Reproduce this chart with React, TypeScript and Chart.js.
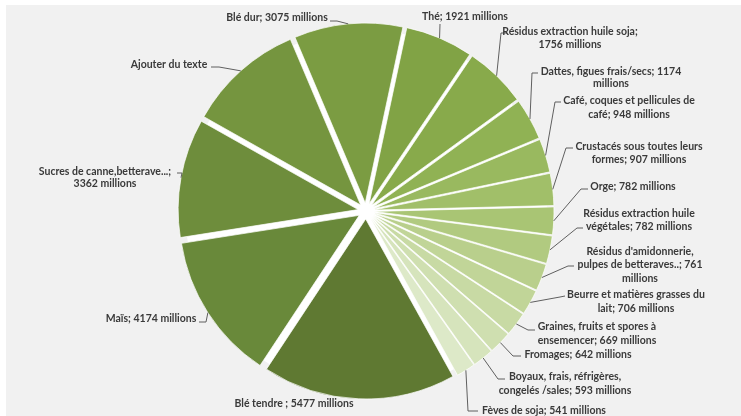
import React, { useEffect, useRef } from "react";
import { Chart, registerables } from "chart.js";

Chart.register(...registerables);

const categories = [
  "Blé tendre",
  "Maïs",
  "Sucres de canne,betterave...",
  "Ajouter du texte",
  "Blé dur",
  "Thé",
  "Résidus extraction huile soja",
  "Dattes, figues frais/secs",
  "Café, coques et pellicules de café",
  "Crustacés sous toutes leurs formes",
  "Orge",
  "Résidus extraction huile végétales",
  "Résidus d'amidonnerie, pulpes de betteraves..",
  "Beurre et matières grasses du lait",
  "Graines, fruits et spores à ensemencer",
  "Fromages",
  "Boyaux, frais, réfrigères, congelés /sales",
  "Fèves de soja",
];

const values = [5477, 4174, 3362, 3300, 3075, 1921, 1756, 1174, 948, 907, 782, 782, 761, 706, 669, 642, 593, 541];

const labelLines: string[][] = [
  ["Blé tendre ; 5477 millions"],
  ["Maïs; 4174 millions"],
  ["Sucres de canne,betterave...;", "3362 millions"],
  ["Ajouter du texte"],
  ["Blé dur; 3075 millions"],
  ["Thé; 1921 millions"],
  ["Résidus extraction huile soja;", "1756 millions"],
  ["Dattes, figues frais/secs; 1174", "millions"],
  ["Café, coques et pellicules de", "café; 948 millions"],
  ["Crustacés sous toutes leurs", "formes; 907 millions"],
  ["Orge; 782 millions"],
  ["Résidus extraction huile", "végétales; 782 millions"],
  ["Résidus d'amidonnerie,", "pulpes de betteraves..; 761", "millions"],
  ["Beurre et matières grasses du", "lait; 706 millions"],
  ["Graines, fruits et spores à", "ensemencer; 669 millions"],
  ["Fromages; 642 millions"],
  ["Boyaux, frais, réfrigères,", "congelés /sales; 593 millions"],
  ["Fèves de soja; 541 millions"],
];

const colors = [
  "#5f7932", "#69893a", "#6e8d3c", "#75953f", "#7b9c42", "#81a345",
  "#88aa4b", "#90b254", "#99b95f", "#a1bf69", "#a9c574", "#b1ca80",
  "#b9cf8c", "#c1d598", "#c8daa4", "#cfdfb0", "#d6e4bc", "#dde9c8",
];

// label text placement: centre x, line y's, leader anchor (a) and elbow (e)
type Lay = { cx: number; y: number[]; a?: [number, number]; e?: [number, number] };
const labelLayout: Lay[] = [
  { cx: 294, y: [404] },
  { cx: 151, y: [319], a: [199, 322], e: [206, 322] },
  { cx: 105, y: [172, 184], a: [177, 173], e: [182, 173] },
  { cx: 169, y: [65], a: [211, 67], e: [219, 67] },
  { cx: 277, y: [18], a: [330, 21], e: [337, 21] },
  { cx: 465, y: [17], a: [440, 24], e: [440, 24] },
  { cx: 570, y: [32, 45], a: [507, 33], e: [501, 33] },
  { cx: 611, y: [72, 84], a: [538, 73], e: [532, 73] },
  { cx: 629, y: [101, 115], a: [561, 102], e: [555, 102] },
  { cx: 639, y: [147, 160], a: [573, 148], e: [566, 148] },
  { cx: 633, y: [187], a: [588, 189], e: [581, 189] },
  { cx: 639, y: [214, 227], a: [583, 228], e: [577, 228] },
  { cx: 640, y: [252, 265, 279], a: [574, 266], e: [568, 266] },
  { cx: 636, y: [295, 309], a: [565, 296], e: [560, 297] },
  { cx: 597, y: [327, 341], a: [535, 330], e: [528, 330] },
  { cx: 578, y: [355], a: [521, 356], e: [513, 356] },
  { cx: 565, y: [377, 391], a: [505, 379], e: [498, 379] },
  { cx: 544, y: [411], a: [478, 411], e: [468, 411] },
];

const EXPLODE = 8;
const RADIUS = 180;

const explodePlugin = {
  id: "explode",
  beforeDatasetDraw(chart: any, args: any) {
    const meta = args.meta;
    const ctx = chart.ctx;
    const first = meta.data[0];
    if (!first) return false;
    const { x, y, outerRadius } = first.getProps(["x", "y", "outerRadius"], true);
    ctx.save();
    ctx.fillStyle = "#ffffff";
    ctx.beginPath();
    ctx.arc(x, y, outerRadius + 1, 0, Math.PI * 2);
    ctx.fill();
    ctx.restore();
    meta.data.forEach((el: any) => {
      const { startAngle, endAngle } = el.getProps(["startAngle", "endAngle"], true);
      const mid = (startAngle + endAngle) / 2;
      ctx.save();
      ctx.translate(Math.cos(mid) * EXPLODE, Math.sin(mid) * EXPLODE);
      el.draw(ctx);
      ctx.restore();
    });
    return false;
  },
  afterDatasetsDraw(chart: any) {
    const meta = chart.getDatasetMeta(0);
    const ctx = chart.ctx;
    ctx.save();
    meta.data.forEach((el: any, i: number) => {
      const { x, y, startAngle, endAngle, outerRadius } = el.getProps(
        ["x", "y", "startAngle", "endAngle", "outerRadius"],
        true
      );
      const mid = (startAngle + endAngle) / 2;
      const r = outerRadius + EXPLODE;
      const px = x + Math.cos(mid) * r;
      const py = y + Math.sin(mid) * r;
      const L = labelLayout[i];
      if (L.a && L.e) {
        ctx.strokeStyle = "#5f5f5f";
        ctx.lineWidth = 1;
        ctx.beginPath();
        ctx.moveTo(px, py);
        ctx.lineTo(L.e[0], L.e[1]);
        ctx.lineTo(L.a[0], L.a[1]);
        ctx.stroke();
      }
      ctx.fillStyle = "#3a3a3a";
      ctx.font = "bold 10.5px Lato, 'Liberation Sans', sans-serif";
      ctx.textAlign = "center";
      ctx.textBaseline = "middle";
      labelLines[i].forEach((t, k) => {
        ctx.fillText(t, L.cx, L.y[k]);
      });
    });
    ctx.restore();
  },
};

export default function App() {
  const ref = useRef<HTMLCanvasElement | null>(null);
  useEffect(() => {
    document.body.style.margin = "0";
    if (!ref.current) return;
    const chart = new Chart(ref.current, {
      type: "pie",
      data: {
        labels: categories,
        datasets: [
          {
            data: values,
            backgroundColor: colors,
            borderColor: "rgba(255,255,255,0.7)",
            borderWidth: 1,
            radius: RADIUS,
          } as any,
        ],
      },
      options: {
        animation: false,
        responsive: false,
        rotation: 151,
        layout: { padding: { left: 166, right: 175, top: 11, bottom: 5 } },
        plugins: { legend: { display: false }, tooltip: { enabled: false } },
      } as any,
      plugins: [explodePlugin],
    });
    return () => chart.destroy();
  }, []);
  return (
    <div style={{ position: "relative", width: 741, height: 416, background: "#ffffff", overflow: "hidden" }}>
      <div style={{ position: "absolute", left: 6, top: 5, right: 0, bottom: 0, background: "#f1f1f1" }} />
      <canvas ref={ref} width={741} height={416} style={{ position: "absolute", left: 0, top: 0, width: 741, height: 416 }} />
    </div>
  );
}
